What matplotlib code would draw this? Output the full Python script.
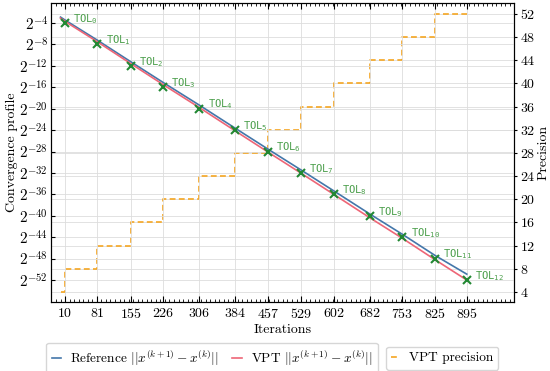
import math
import matplotlib
matplotlib.use("Agg")
import matplotlib.pyplot as plt
from matplotlib.ticker import FixedLocator, FuncFormatter, MultipleLocator, NullLocator

plt.rcParams['font.family'] = 'serif'
plt.rcParams['font.serif'] = ['cmr10']
plt.rcParams['mathtext.fontset'] = 'cm'
plt.rcParams['axes.formatter.use_mathtext'] = True
plt.rcParams['font.size'] = 10

# checkpoints where each tolerance is reached
iters = [10, 81, 155, 226, 306, 384, 457, 529, 602, 682, 753, 825, 895]
tol_exp = [-4, -8, -12, -16, -20, -24, -28, -32, -36, -40, -44, -48, -52]

# convergence profiles, log2 of the residual
line_x = [0, 10, 81, 155, 226, 306, 384, 457, 529, 602, 682, 753, 825, 895]
vpt_exp = [-3.1, -3.7, -7.5, -11.6, -15.5, -19.8, -24.1, -28.1, -32.0, -36.0, -40.4, -44.2, -48.2, -52.0]
ref_exp = [-2.9, -3.45, -7.2, -11.25, -15.1, -19.35, -23.6, -27.55, -31.4, -35.35, -39.7, -43.45, -47.4, -50.9]

# precision used by VPT (bits)
prec_x = [0, 10, 81, 155, 226, 306, 384, 457, 529, 602, 682, 753, 825, 895]
prec = [4, 8, 12, 16, 20, 24, 28, 32, 36, 40, 44, 48, 52, 52]

c_ref = '#4477AA'
c_vpt = '#EE6677'
c_prec = '#F5A623'
c_tol = '#228833'

fig = plt.figure(figsize=(5.5, 3.71), dpi=100)
ax = fig.add_axes([0.0927, 0.186, 0.8418, 0.806])
ax2 = ax.twinx()

l1, = ax.plot(line_x, [2.0 ** e for e in ref_exp], color=c_ref, lw=1.2,
              label=r'Reference $||x^{(k+1)} - x^{(k)}||$')
l2, = ax.plot(line_x, [2.0 ** e for e in vpt_exp], color=c_vpt, lw=1.2,
              label=r'VPT $||x^{(k+1)} - x^{(k)}||$')
tol_y = [2.0 ** e for e in tol_exp]
ax.plot(iters, tol_y, 'x', color=c_tol, ms=6, mew=1.5, zorder=5)
for i, (xi, yi) in enumerate(zip(iters, tol_y)):
    ax.annotate(r'$\mathtt{TOL}_{\mathtt{%d}}$' % i, (xi, yi), xytext=(6, 3),
                textcoords='offset points', ha='left', va='center', fontsize=7.5,
                color='#4c9f4c', math_fontfamily='dejavusans')

l3, = ax2.plot(prec_x, prec, drawstyle='steps-post', color=c_prec, lw=1.2,
               ls=(0, (3.5, 2)), label='VPT precision')

ax.set_yscale('log', base=2)
ax.set_ylim(2.0 ** -56.1, 2.0 ** -0.26)
ax.set_xlim(-21, 999)
ax.yaxis.set_major_locator(FixedLocator(tol_y))
ax.yaxis.set_major_formatter(FuncFormatter(lambda v, p: r'$2^{%d}$' % round(math.log2(v))))
ax.yaxis.set_minor_locator(NullLocator())
ax.xaxis.set_major_locator(FixedLocator(iters))
ax.xaxis.set_minor_locator(MultipleLocator(10))

ax2.set_ylim(2.27, 53.9)
ax2.yaxis.set_major_locator(FixedLocator(list(range(4, 53, 4))))
ax2.yaxis.set_minor_locator(NullLocator())

ax.grid(True, color='#dddddd', lw=0.6)
ax2.grid(True, axis='y', color='#dddddd', lw=0.6)
ax2.set_zorder(ax.get_zorder() - 1)
ax.patch.set_visible(False)

ax.tick_params(axis='x', which='both', direction='in', top=True)
ax.tick_params(axis='x', which='major', length=4)
ax.tick_params(axis='x', which='minor', length=2)
ax.tick_params(axis='y', direction='in', length=3, pad=2, labelsize=11)
ax2.tick_params(axis='y', direction='out', length=2, pad=2)

ax.set_xlabel('Iterations', labelpad=2)
ax.set_ylabel('Convergence profile', labelpad=1)
ax2.set_ylabel('Precision', labelpad=2)

fig.legend(handles=[l1, l2], ncol=2, loc='center left', bbox_to_anchor=(0.084, 0.035),
           handlelength=0.7, handletextpad=0.7, columnspacing=1.0, fontsize=9.6,
           edgecolor='#cccccc', fancybox=True, borderaxespad=0)
fig.legend(handles=[l3], loc='center right', bbox_to_anchor=(0.906, 0.035),
           handlelength=0.6, handletextpad=0.7, fontsize=9.6,
           edgecolor='#cccccc', fancybox=True, borderaxespad=0)

fig.savefig('out.png', dpi=100)
